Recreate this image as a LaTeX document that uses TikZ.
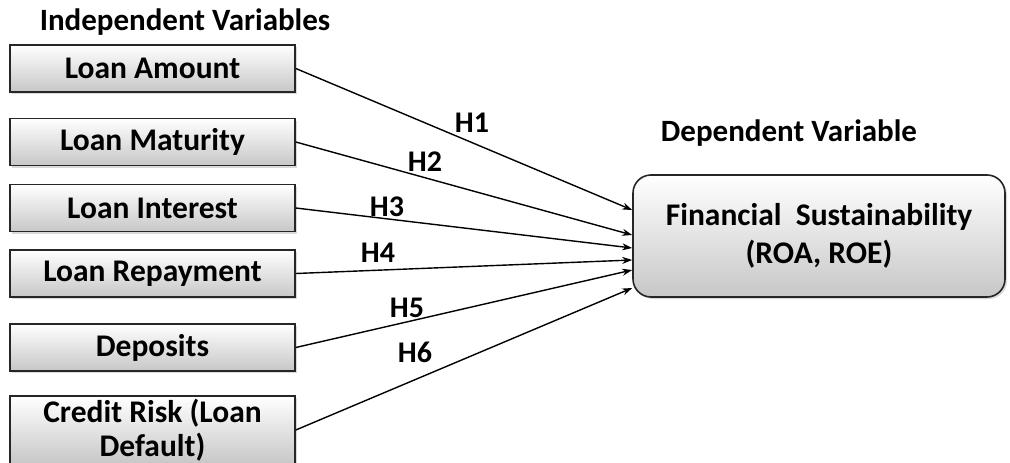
\documentclass[tikz,border=0pt]{standalone}
\usepackage{fontspec}
\setmainfont{Carlito}
\usetikzlibrary{arrows.meta,shadows}
\tikzset{%
    >={Stealth[length=10pt,width=7pt]}, % option for nice arrows
    var/.style={draw=black!85, line width=1.6pt, top color=white,
      bottom color=black!22, minimum width=285pt, minimum height=47pt,
      inner sep=0pt, align=center,
      drop shadow={shadow xshift=2pt,shadow yshift=-2pt,opacity=0.3},
      font=\bfseries\fontsize{31.5}{37}\selectfont},
    title/.style={font=\bfseries\fontsize{31}{35}\selectfont},
    hyp/.style={font=\bfseries\fontsize{30}{35}\selectfont},
    link/.style={->, line width=1.4pt}%
    }

\begin{document}
\begin{tikzpicture}[x=1pt,y=-1pt]
    \useasboundingbox (0,0) rectangle (1010,463);

    \node[title] (indep) at (185,22) {Independent Variables};
    \node[title] (dep) at (789,133) {Dependent Variable};

    % independent variables
    \node[var] (amount) at (152.5,68.5) {Loan Amount};
    \node[var] (maturity) at (152.5,142) {Loan Maturity};
    \node[var] (interest) at (152.5,208) {Loan Interest};
    \node[var] (repay) at (152.5,273.5) {Loan Repayment};
    \node[var] (deposits) at (152.5,347.5) {Deposits};
    \node[var, minimum height=68pt, font=\bfseries\fontsize{31.5}{34}\selectfont]
      (risk) at (152.5,430) {Credit Risk (Loan\\Default)};

    % dependent variable
    \node[var, rounded corners=18pt, minimum width=372pt, minimum height=122pt,
      font=\bfseries\fontsize{31.5}{38}\selectfont] (fin) at (819,236)
      {Financial\ \ Sustainability\\(ROA, ROE)};

    \draw[link] (amount.east) -- ([yshift=26pt]fin.west);
    \draw[link] (maturity.east) -- ([yshift=1pt]fin.west);
    \draw[link] (interest.east) -- ([yshift=-12pt]fin.west);
    \draw[link] (repay.east) -- ([yshift=-24pt]fin.west);
    \draw[link] (deposits.east) -- ([yshift=-34pt]fin.west);
    \draw[link] (risk.east) -- ([yshift=-52pt]fin.west);

    \node[hyp] (h1) at (472,123) {H1};
    \node[hyp] (h2) at (425,162) {H2};
    \node[hyp] (h3) at (387,207) {H3};
    \node[hyp] (h4) at (378,253) {H4};
    \node[hyp] (h5) at (407,308) {H5};
    \node[hyp] (h6) at (415,352) {H6};
\end{tikzpicture}
\end{document}
